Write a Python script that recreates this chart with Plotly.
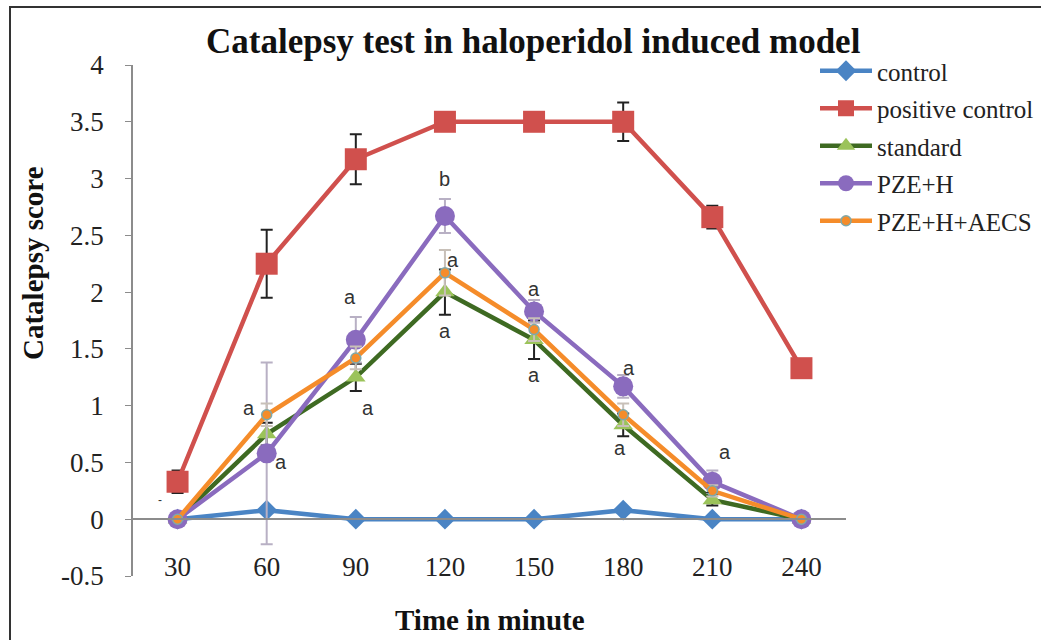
import plotly.graph_objects as go

times = ["30", "60", "90", "120", "150", "180", "210", "240"]

control = [0, 0.08, 0, 0, 0, 0.08, 0, 0]
control_err = [0, 0, 0, 0, 0, 0, 0, 0]

positive = [0.33, 2.25, 3.17, 3.5, 3.5, 3.5, 2.66, 1.33]
positive_err = [0.1, 0.3, 0.22, 0, 0, 0.17, 0.1, 0]

standard = [0, 0.75, 1.25, 2.0, 1.58, 0.83, 0.17, 0]
standard_err = [0, 0.1, 0.12, 0.2, 0.17, 0.1, 0.05, 0]

pze_h = [0, 0.58, 1.58, 2.67, 1.83, 1.17, 0.33, 0]
pze_h_err = [0, 0.8, 0.2, 0.15, 0.1, 0.1, 0.1, 0]

pze_h_aecs = [0, 0.92, 1.42, 2.17, 1.67, 0.92, 0.25, 0]
pze_h_aecs_err = [0, 0.1, 0.1, 0.2, 0.1, 0.1, 0.05, 0]

series_names = ["control", "positive control", "standard", "PZE+H", "PZE+H+AECS"]

y_ticks = [-0.5, 0, 0.5, 1, 1.5, 2, 2.5, 3, 3.5, 4]
y_tick_text = ["-0.5", "0", "0.5", "1", "1.5", "2", "2.5", "3", "3.5", "4"]

# significance labels
sig_x = ["120", "90", "120", "120", "150", "150", "180", "180", "210", "90", "60", "60"]
sig_y = [3.0, 1.96, 2.28, 1.66, 2.03, 1.27, 1.33, 0.63, 0.59, 0.98, 0.98, 0.50]
sig_t = ["b", "a", "a", "a", "a", "a", "a", "a", "a", "a", "a", "a"]

SERIF = "Liberation Serif"

fig = go.Figure()

def add(name, y, err, line_color, marker, err_color):
    fig.add_trace(go.Scatter(
        x=times, y=y, name=name, mode="lines+markers",
        line=dict(color=line_color, width=4.5),
        marker=marker,
        error_y=dict(type="data", array=err, visible=True, color=err_color,
                     thickness=2, width=6),
        legendgroup=name,
    ))

add(series_names[0], control, control_err, "#4A84C4",
    dict(symbol="diamond", size=16, color="#4A84C4"), "#333333")
add(series_names[1], positive, positive_err, "#D0504D",
    dict(symbol="square", size=22, color="#D0504D"), "#222222")
add(series_names[2], standard, standard_err, "#3E6A22",
    dict(symbol="triangle-up", size=17, color="#9BC35A"), "#222222")
add(series_names[3], pze_h, pze_h_err, "#8A6BBE",
    dict(symbol="circle", size=20, color="#8A6BBE"), "#B8B0C4")
add(series_names[4], pze_h_aecs, pze_h_aecs_err, "#F58C2A",
    dict(symbol="circle", size=10, color="#F58C2A",
         line=dict(color="#7FA9AA", width=1.5)), "#C8C0B8")

shifts = [0, -6, 8, 0, 0, 0, 6, -3, 13, 12, -18, 14]
for xv, yv, tv, sh in zip(sig_x, sig_y, sig_t, shifts):
    fig.add_annotation(x=times.index(xv), y=yv, text=tv, xref="x", yref="y",
                       showarrow=False, xshift=sh,
                       font=dict(family="Liberation Sans", size=20, color="#333333"))

# small marks
fig.add_annotation(x=0, y=0.17, text="-", xref="x", yref="y", showarrow=False,
                   xshift=-18, font=dict(family="Liberation Sans", size=12, color="#333333"))
fig.add_annotation(x=6, y=0.24, text="-", xref="x", yref="y", showarrow=False,
                   xshift=-5, font=dict(family="Liberation Sans", size=12, color="#333333"))

W, H = 1041, 640
L, T = 133, 65
R = W - 846
B = H - 576
pw = W - L - R
ph = H - T - B

def px_x(p):
    return (p - L) / pw

def px_y(p):
    return (H - B - p) / ph

# title and axis titles
fig.add_annotation(text="<b>Catalepsy test in haloperidol induced model</b>",
                   xref="paper", yref="paper", x=px_x(533), y=px_y(42),
                   xanchor="center", yanchor="middle",
                   showarrow=False, font=dict(family=SERIF, size=35, color="#111111"))
fig.add_annotation(text="<b>Time in minute</b>", xref="paper", yref="paper",
                   x=px_x(490), y=px_y(620), xanchor="center", yanchor="middle",
                   showarrow=False, font=dict(family=SERIF, size=29, color="#111111"))
fig.add_annotation(text="<b>Catalepsy score</b>", xref="paper", yref="paper",
                   x=px_x(33), y=px_y(263), xanchor="center", yanchor="middle",
                   showarrow=False, textangle=-90,
                   font=dict(family=SERIF, size=29, color="#111111"))

# outer frame
fig.add_shape(type="rect", xref="paper", yref="paper",
              x0=px_x(10), x1=px_x(1100), y0=px_y(700), y1=px_y(7),
              line=dict(color="#333333", width=2), fillcolor="rgba(0,0,0,0)")

fig.update_layout(
    width=W, height=H,
    margin=dict(l=L, r=R, t=T, b=B, autoexpand=False),
    paper_bgcolor="white", plot_bgcolor="white",
    showlegend=True,
    legend=dict(x=px_x(815), y=px_y(48), xanchor="left", yanchor="top",
                font=dict(family=SERIF, size=25, color="#222222"),
                tracegroupgap=2, itemwidth=52, bgcolor="rgba(0,0,0,0)"),
    xaxis=dict(type="category", range=[-0.5, 7.5], showgrid=False, zeroline=False,
               showline=True, linecolor="#8C8C8C", linewidth=1.5,
               anchor="free", position=0.5 / 4.5,
               ticks="", ticklabelstandoff=24,
               tickfont=dict(family=SERIF, size=27, color="#222222")),
    yaxis=dict(range=[-0.5, 4], showgrid=False, zeroline=False,
               showline=True, linecolor="#8C8C8C", linewidth=1.5,
               ticks="outside", ticklen=6, tickcolor="#8C8C8C",
               ticklabelstandoff=16,
               tickvals=y_ticks, ticktext=y_tick_text,
               tickfont=dict(family=SERIF, size=27, color="#222222")),
)

fig.write_html("out.html", config={"displayModeBar": False},
               post_script="document.body.style.margin='0';document.body.style.padding='0';document.body.style.overflow='hidden';")
